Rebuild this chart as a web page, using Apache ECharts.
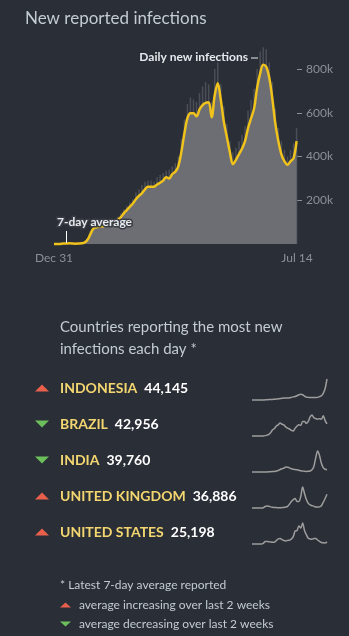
<!DOCTYPE html>
<html>
<head>
<meta charset="utf-8">
<script src="https://cdn.jsdelivr.net/npm/echarts@6/dist/echarts.min.js"></script>
<style>
  html, body { margin: 0; padding: 0; background: #2a2e37; }
  #chart { width: 349px; height: 636px; }
</style>
</head>
<body>
<div id="chart"></div>
<script>
// ---- DATA ----
// Weekly points from Dec 31, 2019 (day 0) to Jul 13, 2021 (day 560); values in thousands
const weeklyAvgK = [0.2,0.3,0.5,2,2.5,3,2.5,1.5,2,3.5,6,18,45,70,76,79,80,83,85,88,98,110,122,140,155,170,185,205,220,232,250,262,262,262,272,280,290,305,300,320,330,355,420,505,575,598,598,584,615,635,645,648,580,680,735,660,560,490,420,365,385,410,435,470,530,575,620,715,780,820,810,760,665,550,470,410,378,362,378,392,470];
const dailyHighK = [0.5,0.5,1,4,4,4,3,2.5,3,5,9,25,60,85,90,92,90,96,100,102,112,125,140,158,175,190,205,235,250,270,285,290,290,285,305,315,325,335,340,355,370,400,480,570,640,670,660,650,690,720,740,730,650,800,850,730,630,550,470,420,440,470,500,540,610,660,710,800,880,900,890,830,740,620,530,470,430,400,430,460,530];
const xTickLabels = ['Dec 31', 'Jul 14'];
const yTickValuesK = [200, 400, 600, 800];

const countries = ['INDONESIA', 'BRAZIL', 'INDIA', 'UNITED KINGDOM', 'UNITED STATES'];
const latestAvg = [44145, 42956, 39760, 36886, 25198];
const trends = ['up', 'down', 'down', 'up', 'up'];
// Bi-weekly 7-day averages (thousands), Dec 31 2019 .. Jul 13 2021
const sparkIndonesia = [0,0,0,0,0,0,0.1,0.3,0.5,0.8,1,1.3,1.6,2,2.5,3,3.5,4,4,4,4.5,5.5,6.5,7.5,9,11,12,11,8,6,5.5,5,5,5.5,5,5.5,7,9,14,24,44];
const sparkBrazil = [0,0,0,0,0,0,0.3,1.3,3,6,13,22,27,36,40,46,42,40,32,28,25,20,18,28,35,40,38,52,52,45,52,68,75,65,62,60,62,60,72,55,43];
const sparkIndia = [0,0,0,0,0,0,0,0.5,1.3,3,5,8,11,17,27,45,60,70,92,85,75,58,48,45,40,32,22,18,13,11,12,18,40,100,260,380,300,160,80,50,40];
const sparkUK = [0,0,0,0,0,0,0.8,4,5,4.5,3,2,1.3,1,0.7,0.8,1,1.2,2.5,4.5,10,17,22,25,17,17,30,55,38,22,12,8,6,5,2.5,2.3,3,6,15,25,36];
const sparkUS = [0,0,0,0,0,0.1,8,30,29,28,23,21,22,42,62,65,52,42,36,43,44,60,88,155,160,215,190,250,160,110,68,60,56,65,65,48,30,17,14,13,25];
const sparks = [sparkIndonesia, sparkBrazil, sparkIndia, sparkUK, sparkUS];

const footnotes = ['* Latest 7-day average reported', 'average increasing over last 2 weeks', 'average decreasing over last 2 weeks'];

// ---- STYLE ----
const BG = '#2a2e37';
const FONT = 'Lato, "Open Sans", sans-serif';
const YELLOW = '#f0c21c';
const RED = '#e8604c';
const GREEN = '#6cbf5c';

const chart = echarts.init(document.getElementById('chart'), null, { renderer: 'canvas' });

const grids = [{ left: 54, right: 52, top: 69, bottom: 392 }];
const xAxes = [{
  type: 'value', gridIndex: 0, min: 0, max: 561, interval: 561,
  axisLine: { show: false, onZero: false }, axisTick: { show: false }, splitLine: { show: false },
  axisLabel: {
    color: '#8a9099', fontSize: 12, fontFamily: FONT, margin: 8,
    formatter: v => (v === 0 ? xTickLabels[0] : xTickLabels[1])
  }
}];
const yAxes = [{
  type: 'value', gridIndex: 0, position: 'right', min: 0, max: 800, interval: 200,
  axisLine: { show: false, onZero: false }, splitLine: { show: false },
  axisTick: { show: true, length: 5, lineStyle: { color: '#8a9099' }, customValues: yTickValuesK },
  axisLabel: {
    color: '#8a9099', fontSize: 12, fontFamily: FONT, margin: 9,
    formatter: v => (yTickValuesK.indexOf(v) >= 0 ? v + 'k' : '')
  }
}];
const series = [
  {
    type: 'bar', xAxisIndex: 0, yAxisIndex: 0, barWidth: 1.5, clip: false, z: 1,
    itemStyle: { color: '#4b4e56' }, silent: true,
    data: dailyHighK.map((v, i) => [i * 7, v])
  },
  {
    type: 'line', xAxisIndex: 0, yAxisIndex: 0, smooth: 0.35, symbol: 'none', clip: false, z: 3,
    lineStyle: { color: YELLOW, width: 2.5 },
    areaStyle: { color: '#6c6e74', opacity: 1 },
    data: weeklyAvgK.map((v, i) => [i * 7, v])
  }
];

const graphic = [
  { type: 'text', x: 25, y: 19, style: { text: 'New reported infections', fill: '#c3cbd3', font: '17px ' + FONT, verticalAlign: 'middle' } },
  { type: 'text', x: 248, y: 57, z: 10, style: { text: 'Daily new infections', fill: '#e6eaee', font: 'bold 12px ' + FONT, align: 'right', verticalAlign: 'middle', stroke: BG, lineWidth: 3 } },
  { type: 'line', z: 10, shape: { x1: 251, y1: 58, x2: 258, y2: 58 }, style: { stroke: '#a9adb3', lineWidth: 1.5 } },
  { type: 'text', x: 57, y: 222, z: 10, style: { text: '7-day average', fill: '#e6eaee', font: 'bold 12px ' + FONT, verticalAlign: 'middle', stroke: '#3a3d44', lineWidth: 3 } },
  { type: 'line', z: 10, shape: { x1: 66.5, y1: 231, x2: 66.5, y2: 243 }, style: { stroke: '#ffffff', lineWidth: 1 } },
  { type: 'text', x: 60, y: 327, style: { text: 'Countries reporting the most new', fill: '#c3cbd3', font: '15px ' + FONT, verticalAlign: 'middle' } },
  { type: 'text', x: 60, y: 349, style: { text: 'infections each day *', fill: '#c3cbd3', font: '15px ' + FONT, verticalAlign: 'middle' } }
];

function tri(cx, cy, w, h, up, color) {
  const pts = up
    ? [[cx - w / 2, cy + h / 2], [cx + w / 2, cy + h / 2], [cx, cy - h / 2]]
    : [[cx - w / 2, cy - h / 2], [cx + w / 2, cy - h / 2], [cx, cy + h / 2]];
  return { type: 'polygon', shape: { points: pts }, style: { fill: color } };
}

countries.forEach((name, i) => {
  const cy = 388 + i * 36;
  const up = trends[i] === 'up';
  graphic.push(tri(42, cy, 14, 7, up, up ? RED : GREEN));
  graphic.push({
    type: 'text', x: 60, y: cy,
    style: {
      text: '{n|' + name + '}{v|' + latestAvg[i].toLocaleString('en-US') + '}',
      verticalAlign: 'middle',
      rich: {
        n: { fill: '#f3d66f', font: 'bold 14px ' + FONT },
        v: { fill: '#ffffff', font: 'bold 14px ' + FONT, padding: [0, 0, 0, 7] }
      }
    }
  });
  const gi = i + 1;
  grids.push({ left: 252, width: 75, top: cy - 9, height: 21 });
  xAxes.push({ type: 'category', gridIndex: gi, show: false, boundaryGap: false, data: sparks[i].map((_, k) => k) });
  yAxes.push({ type: 'value', gridIndex: gi, show: false, min: 0, max: 'dataMax' });
  series.push({
    type: 'line', xAxisIndex: gi, yAxisIndex: gi, symbol: 'none', smooth: 0.3, clip: false,
    lineStyle: { color: '#9d9d9d', width: 1.5 }, data: sparks[i], silent: true
  });
});

graphic.push({ type: 'text', x: 60, y: 585, style: { text: footnotes[0], fill: '#c3cbd3', font: '12px ' + FONT, verticalAlign: 'middle' } });
graphic.push(tri(65.5, 605, 11, 5, true, RED));
graphic.push({ type: 'text', x: 79, y: 605, style: { text: footnotes[1], fill: '#c3cbd3', font: '12px ' + FONT, verticalAlign: 'middle' } });
graphic.push(tri(65.5, 624, 11, 5, false, GREEN));
graphic.push({ type: 'text', x: 79, y: 624, style: { text: footnotes[2], fill: '#c3cbd3', font: '12px ' + FONT, verticalAlign: 'middle' } });

chart.setOption({
  backgroundColor: BG,
  animation: false,
  grid: grids,
  xAxis: xAxes,
  yAxis: yAxes,
  series: series,
  graphic: graphic
});
</script>
</body>
</html>
